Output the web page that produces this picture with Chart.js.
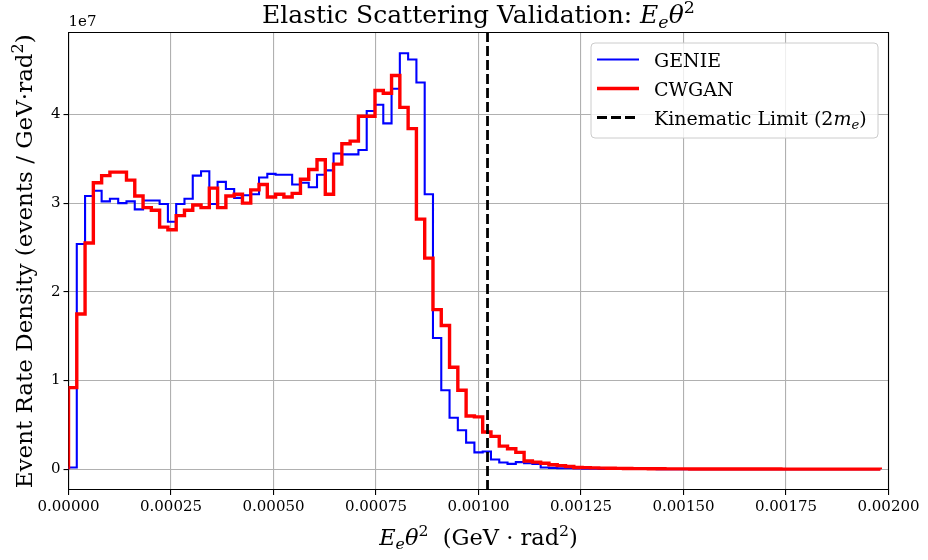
<!DOCTYPE html>
<html>
<head>
<meta charset="utf-8">
<script src="https://cdn.jsdelivr.net/npm/chart.js@4"></script>
<style>
  html, body { margin: 0; padding: 0; background: #fff; }
  #wrap { width: 928px; height: 560px; }
</style>
</head>
<body>
<div id="wrap"><canvas id="myChart" width="928" height="560"></canvas></div>
<script>
// histogram bins: 98 equal bins from 0 to 0.00198 GeV·rad²
const binStart = 0;
const binWidth = 0.00198 / 98;

// event rate density per bin, in units of 1e7
const genie = [
  0.02, 2.54, 3.08, 3.14, 3.02, 3.05, 3.00, 3.02, 2.93, 3.03,
  3.03, 2.99, 2.79, 2.99, 3.05, 3.31, 3.36, 2.99, 3.24, 3.16,
  3.06, 3.09, 3.10, 3.29, 3.33, 3.32, 3.32, 3.21, 3.23, 3.18,
  3.32, 3.37, 3.56, 3.55, 3.55, 3.60, 4.04, 4.11, 3.90, 4.29,
  4.69, 4.62, 4.36, 3.10, 1.48, 0.89, 0.58, 0.44, 0.30, 0.19,
  0.20, 0.11, 0.075, 0.06, 0.08, 0.067, 0.06, 0.02, 0.015, 0.01,
  0.01, 0.008, 0.006, 0.005, 0.004, 0.004, 0.003, 0.003, 0.002, 0.002,
  0.002, 0.001, 0.001, 0.001, 0.001, 0.001, 0, 0, 0, 0,
  0, 0, 0, 0, 0, 0, 0, 0, 0, 0,
  0, 0, 0, 0, 0, 0, 0, 0
];
const cwgan = [
  0.92, 1.75, 2.55, 3.23, 3.31, 3.35, 3.35, 3.26, 3.08, 2.95,
  2.92, 2.73, 2.70, 2.86, 2.92, 2.98, 2.95, 3.17, 2.95, 3.08,
  3.10, 3.00, 3.15, 3.21, 3.07, 3.10, 3.07, 3.11, 3.27, 3.38,
  3.49, 3.10, 3.44, 3.67, 3.70, 3.98, 3.98, 4.27, 4.24, 4.44,
  4.08, 3.84, 2.82, 2.38, 1.80, 1.62, 1.15, 0.89, 0.60, 0.59,
  0.42, 0.37, 0.26, 0.23, 0.19, 0.093, 0.08, 0.067, 0.05, 0.04,
  0.03, 0.02, 0.018, 0.015, 0.012, 0.010, 0.009, 0.008, 0.007, 0.006,
  0.005, 0.005, 0.004, 0.004, 0.004, 0.003, 0.003, 0.003, 0.003, 0.002,
  0.002, 0.002, 0.002, 0.002, 0.002, 0.002, 0.001, 0.001, 0.001, 0.001,
  0.001, 0.001, 0.001, 0.001, 0.001, 0.001, 0.001, 0.001
];

const kinematicLimit = 2 * 0.000511; // 2 m_e in GeV
const xTicks = [0, 0.00025, 0.0005, 0.00075, 0.001, 0.00125, 0.0015, 0.00175, 0.002];
const yTicks = [0, 1, 2, 3, 4];
const xRange = [0, 0.002];
const yRange = [-0.2345, 4.9245];

const FONT = '"DejaVu Serif", "Liberation Serif", serif';

// turn bin values into step points (histtype="step")
function stepPoints(values) {
  const pts = [{x: binStart, y: 0}];
  values.forEach((v, i) => pts.push({x: binStart + i * binWidth, y: v}));
  const end = binStart + values.length * binWidth;
  pts.push({x: end, y: values[values.length - 1]});
  pts.push({x: end, y: 0});
  return pts;
}

// draw text made of pieces (normal / italic / sub / superscript)
function richWidth(ctx, parts) {
  let w = 0;
  parts.forEach(p => {
    ctx.font = (p.italic ? 'italic ' : '') + p.size + 'px ' + FONT;
    w += ctx.measureText(p.t).width;
  });
  return w;
}
function drawRich(ctx, parts, x, y, align) {
  let cx = x;
  if (align === 'center') cx = x - richWidth(ctx, parts) / 2;
  ctx.textAlign = 'left';
  ctx.textBaseline = 'alphabetic';
  parts.forEach(p => {
    ctx.font = (p.italic ? 'italic ' : '') + p.size + 'px ' + FONT;
    ctx.fillText(p.t, cx, y + (p.dy || 0));
    cx += ctx.measureText(p.t).width;
  });
}

const decorations = {
  id: 'decorations',
  beforeDraw(chart) {
    const ctx = chart.ctx;
    ctx.save();
    ctx.fillStyle = '#fff';
    ctx.fillRect(0, 0, chart.width, chart.height);
    ctx.restore();
  },
  afterDraw(chart) {
    const ctx = chart.ctx;
    const a = chart.chartArea;
    ctx.save();
    ctx.fillStyle = '#000';

    // top and right spines
    ctx.strokeStyle = '#000';
    ctx.lineWidth = 1.1;
    ctx.beginPath();
    ctx.moveTo(a.left, a.top);
    ctx.lineTo(a.right, a.top);
    ctx.lineTo(a.right, a.bottom);
    ctx.stroke();

    // title
    drawRich(ctx, [
      {t: 'Elastic Scattering Validation: ', size: 25},
      {t: 'E', size: 25, italic: true},
      {t: 'e', size: 17.5, italic: true, dy: 5},
      {t: 'θ', size: 25, italic: true},
      {t: '2', size: 17.5, dy: -10}
    ], (a.left + a.right) / 2, 23, 'center');

    // offset text
    ctx.font = '15px ' + FONT;
    ctx.textAlign = 'left';
    ctx.fillText('1e7', a.left, 26);

    // x label
    drawRich(ctx, [
      {t: 'E', size: 22.5, italic: true},
      {t: 'e', size: 15.7, italic: true, dy: 4},
      {t: 'θ', size: 22.5, italic: true},
      {t: '2', size: 15.7, dy: -9},
      {t: '  (GeV · rad', size: 22.5},
      {t: '2', size: 15.7, dy: -9},
      {t: ')', size: 22.5}
    ], (a.left + a.right) / 2, 545, 'center');

    // y label
    ctx.save();
    ctx.translate(32, (a.top + a.bottom) / 2);
    ctx.rotate(-Math.PI / 2);
    drawRich(ctx, [
      {t: 'Event Rate Density (events / GeV·rad', size: 23},
      {t: '2', size: 16, dy: -9},
      {t: ')', size: 23}
    ], 0, 0, 'center');
    ctx.restore();

    // legend
    const lx = 591, ly = 43, lw = 287, lh = 95;
    ctx.beginPath();
    ctx.roundRect(lx, ly, lw, lh, 4);
    ctx.fillStyle = 'rgba(255,255,255,0.8)';
    ctx.fill();
    ctx.strokeStyle = '#cccccc';
    ctx.lineWidth = 1;
    ctx.stroke();

    const rows = [
      {label: [{t: 'GENIE', size: 19}], color: '#0000ff', width: 2.1, dash: []},
      {label: [{t: 'CWGAN', size: 19}], color: '#ff0000', width: 3.4, dash: []},
      {label: [
        {t: 'Kinematic Limit (', size: 19},
        {t: '2', size: 19},
        {t: 'm', size: 19, italic: true},
        {t: 'e', size: 13.3, italic: true, dy: 4},
        {t: ')', size: 19}
      ], color: '#000', width: 2.8, dash: [10, 4]}
    ];
    rows.forEach((r, i) => {
      const y = 59.5 + i * 29;
      ctx.strokeStyle = r.color;
      ctx.lineWidth = r.width;
      ctx.setLineDash(r.dash);
      ctx.beginPath();
      ctx.moveTo(597, y);
      ctx.lineTo(639, y);
      ctx.stroke();
      ctx.setLineDash([]);
      ctx.fillStyle = '#000';
      drawRich(ctx, r.label, 654, y + 7, 'left');
    });
    ctx.restore();
  }
};

const data = {
  datasets: [
    {
      label: 'GENIE',
      data: stepPoints(genie),
      borderColor: '#0000ff',
      borderWidth: 2.1,
      stepped: true,
      pointRadius: 0,
      order: 3
    },
    {
      label: 'CWGAN',
      data: stepPoints(cwgan),
      borderColor: '#ff0000',
      borderWidth: 3.4,
      stepped: true,
      pointRadius: 0,
      order: 2
    },
    {
      label: 'Kinematic Limit (2m_e)',
      data: [{x: kinematicLimit, y: yRange[0]}, {x: kinematicLimit, y: yRange[1]}],
      borderColor: '#000',
      borderWidth: 2.8,
      borderDash: [10, 4],
      pointRadius: 0,
      order: 1
    }
  ]
};

const config = {
  type: 'line',
  data: data,
  plugins: [decorations],
  options: {
    responsive: false,
    animation: false,
    devicePixelRatio: 1,
    layout: {padding: {top: 32.5, right: 39.5, left: 0, bottom: 0}},
    plugins: {legend: {display: false}, tooltip: {enabled: false}},
    scales: {
      x: {
        type: 'linear',
        min: xRange[0],
        max: xRange[1],
        afterFit: s => { s.height = 70; },
        afterBuildTicks: s => { s.ticks = xTicks.map(v => ({value: v})); },
        ticks: {
          color: '#000',
          padding: 3,
          maxRotation: 0,
          font: {family: FONT, size: 15},
          callback: v => v.toFixed(5)
        },
        grid: {color: '#b0b0b0', lineWidth: 1.1, tickColor: '#000', tickLength: 5},
        border: {color: '#000', width: 1.1}
      },
      y: {
        min: yRange[0],
        max: yRange[1],
        afterFit: s => { s.width = 68.5; },
        afterBuildTicks: s => { s.ticks = yTicks.map(v => ({value: v})); },
        ticks: {
          color: '#000',
          padding: 3,
          font: {family: FONT, size: 15},
          callback: v => String(v)
        },
        grid: {color: '#b0b0b0', lineWidth: 1.1, tickColor: '#000', tickLength: 5},
        border: {color: '#000', width: 1.1}
      }
    }
  }
};

const myChart = new Chart(document.getElementById('myChart'), config);
</script>
</body>
</html>
